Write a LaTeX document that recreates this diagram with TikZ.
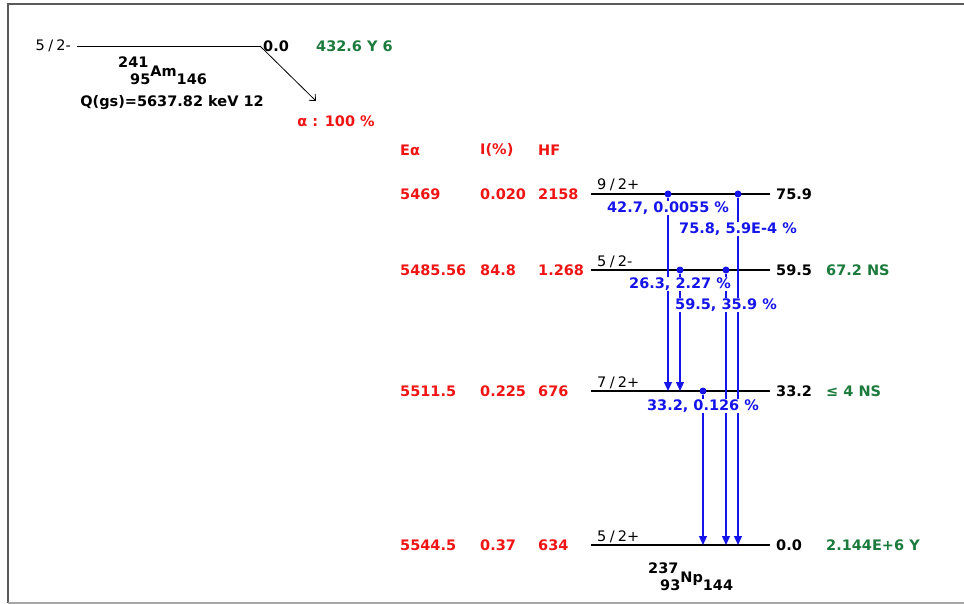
\documentclass[tikz,border=0pt]{standalone}
\usepackage{fontspec}
\setmainfont{DejaVu Sans}
\usepackage{xcolor}
\usetikzlibrary{arrows.meta,positioning}

\definecolor{valred}{RGB}{240,20,20}
\definecolor{gamblue}{RGB}{20,20,235}
\definecolor{lifegreen}{RGB}{28,122,60}
\definecolor{framegray}{RGB}{90,90,90}

\newcommand\nuclide[4]{\makebox[0pt][l]{\kern-12pt\raisebox{17pt}{#1}}#2\raisebox{8pt}{#3}#4}
\newcommand\spinpar[3]{#1\kern3.5pt/\kern3pt#2#3}

\begin{document}
\begin{tikzpicture}[
  x=1pt, y=-1pt,
  font=\fontsize{14.5}{17}\selectfont\bfseries,
  level/.style={line width=1.3pt},
  spin/.style={anchor=base west, inner sep=0pt, font=\fontsize{14.5}{17}\selectfont},
  energy/.style={anchor=west, inner sep=0pt},
  life/.style={anchor=west, inner sep=0pt, text=lifegreen},
  val/.style={anchor=west, inner sep=0pt, text=valred},
  dot/.style={circle, fill=gamblue, inner sep=0pt, minimum size=7pt},
  gamma/.style={draw=gamblue, line width=1.3pt, -{Triangle[length=9pt,width=8pt]}},
  glabel/.style={text=gamblue, fill=white, inner sep=1pt}
]
  \useasboundingbox (0,0) rectangle (964,604);
  % frame
  \draw[framegray, line width=2pt] (964,4) -- (8,4) -- (8,603);
  \draw[gray!70, line width=1.5pt] (8,603) -- (964,603);

  % parent
  \coordinate (amL) at (77,46);
  \coordinate (amR) at (260,46);
  \node[anchor=east, inner sep=0pt, font=\fontsize{14.5}{17}\selectfont] (amspin) at (71,46) {\spinpar{5}{2}{-}};
  \node[energy] (amE) at (263,46) {0.0};
  \node[life] (amlife) at (316,46) {432.6 Y 6};
  \node[anchor=base west, inner sep=0pt] (am) at (130,85) {\nuclide{241}{95}{Am}{146}};
  \node (qval) at (172,103) {Q(gs)=5637.82 keV 12};
  \coordinate (alphaend) at (316,101);
  \node[text=valred] (branch) at (336,121) {α : 100 \%};

  % headers
  \node[val] (hEa) at (400,150) {Eα};
  \node[val] (hI) at (480,150) {I(\%)};
  \node[val] (hHF) at (538,150) {HF};

  % levels
  \coordinate (l759L) at (591,194);  \coordinate (l759R) at (770,194);
  \coordinate (l595L) at (591,270);  \coordinate (l595R) at (770,270);
  \coordinate (l332L) at (591,391);  \coordinate (l332R) at (770,391);
  \coordinate (l0L) at (591,545);    \coordinate (l0R) at (770,545);

  \node[spin] (s759) at (597,190) {\spinpar{9}{2}{+}};
  \node[spin] (s595) at (597,266) {\spinpar{5}{2}{-}};
  \node[spin] (s332) at (597,387) {\spinpar{7}{2}{+}};
  \node[spin] (s0) at (597,541) {\spinpar{5}{2}{+}};

  \node[energy] (e759) at (776,194) {75.9};
  \node[energy] (e595) at (776,270) {59.5};
  \node[energy] (e332) at (776,391) {33.2};
  \node[energy] (e0) at (776,545) {0.0};

  \node[life] (t595) at (826,270) {67.2 NS};
  \node[life] (t332) at (826,391) {≤ 4 NS};
  \node[life] (t0) at (826,545) {2.144E+6 Y};

  \node[anchor=base west, inner sep=0pt] (np) at (660,590) {\nuclide{237}{93}{Np}{144}};

  % alpha branches
  \node[val] (a1) at (400,194) {5469};
  \node[val] (i1) at (480,194) {0.020};
  \node[val] (h1) at (538,194) {2158};
  \node[val] (a2) at (400,270) {5485.56};
  \node[val] (i2) at (480,270) {84.8};
  \node[val] (h2) at (538,270) {1.268};
  \node[val] (a3) at (400,391) {5511.5};
  \node[val] (i3) at (480,391) {0.225};
  \node[val] (h3) at (538,391) {676};
  \node[val] (a4) at (400,545) {5544.5};
  \node[val] (i4) at (480,545) {0.37};
  \node[val] (h4) at (538,545) {634};

  \draw[line width=0.8pt] (amL) -- (amR);
  \draw[line width=0.8pt, -{Straight Barb[length=5pt,width=9pt]}] (amR) -- (alphaend);

  \draw[level] (l759L) -- (l759R);
  \draw[level] (l595L) -- (l595R);
  \draw[level] (l332L) -- (l332R);
  \draw[level] (l0L) -- (l0R);

  % gammas
  \node[dot] (g1) at (668,194) {};
  \node[dot] (g2) at (738,194) {};
  \node[dot] (g3) at (680,270) {};
  \node[dot] (g4) at (726,270) {};
  \node[dot] (g5) at (703,391) {};

  \draw[gamma] (g1) -- (g1 |- l332L);
  \draw[gamma] (g2) -- (g2 |- l0L);
  \draw[gamma] (g3) -- (g3 |- l332L);
  \draw[gamma] (g4) -- (g4 |- l0L);
  \draw[gamma] (g5) -- (g5 |- l0L);

  \node[glabel] (g1l) at (668,208) {42.7, 0.0055 \%};
  \node[glabel] (g2l) at (738,229) {75.8, 5.9E-4 \%};
  \node[glabel] (g3l) at (680,284) {26.3, 2.27 \%};
  \node[glabel] (g4l) at (726,305) {59.5, 35.9 \%};
  \node[glabel] (g5l) at (703,406) {33.2, 0.126 \%};
\end{tikzpicture}
\end{document}
